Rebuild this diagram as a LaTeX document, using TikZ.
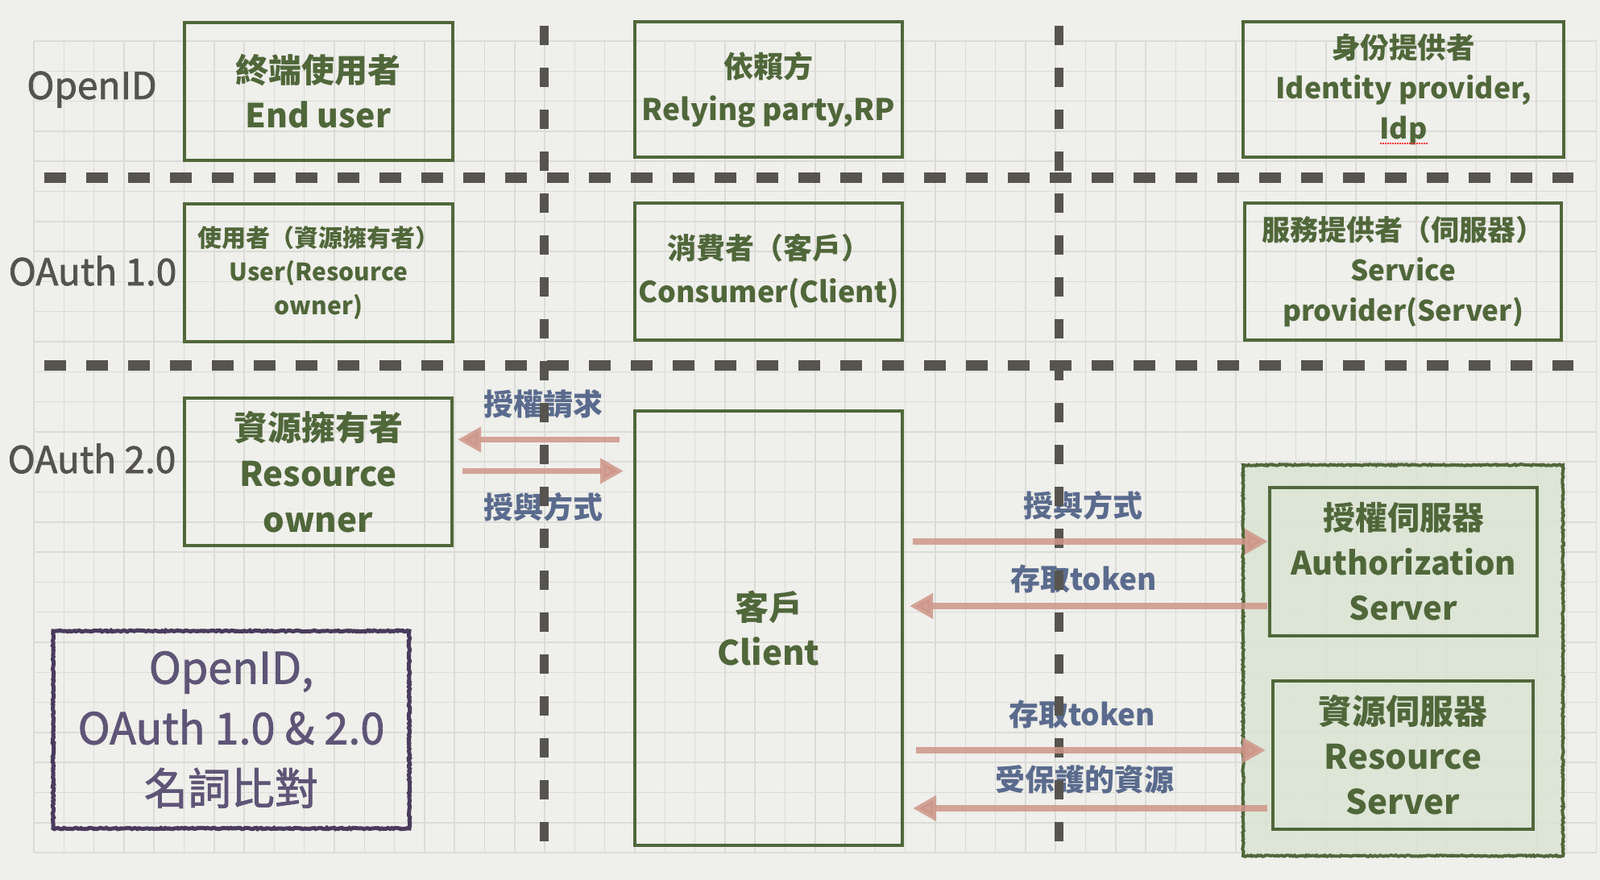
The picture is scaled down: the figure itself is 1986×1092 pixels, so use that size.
\documentclass[tikz,border=0pt]{standalone}
\usepackage{fontspec}
\setmainfont{Noto Sans CJK TC}
\newfontfamily\medfont{Noto Sans CJK TC}[BoldFont={Noto Sans CJK TC}, BoldFeatures={FakeBold=1.6}]
\usetikzlibrary{calc,arrows.meta,decorations.pathmorphing}
\definecolor{paper}{HTML}{EFEFEB}
\definecolor{gridc}{HTML}{DBDBD7}
\definecolor{olive}{HTML}{50673A}
\definecolor{slate}{HTML}{55534F}
\definecolor{dashc}{HTML}{57544F}
\definecolor{steel}{HTML}{5A6B8D}
\definecolor{rose}{HTML}{CF9689}
\definecolor{plum}{HTML}{4A3B5C}
\definecolor{plumtext}{HTML}{5E5577}
\definecolor{sage}{HTML}{DAE4D3}
\tikzset{
	gridline/.style={gridc, line width=1.5pt},
	role/.style={draw=olive, line width=4pt, text=olive, align=center, inner sep=0pt,
		font=\fontsize{42}{56}\selectfont\bfseries},
	rowlabel/.style={text=slate, font=\fontsize{46}{50}\selectfont\medfont\bfseries},
	msg/.style={text=steel, font=\fontsize{37}{40}\selectfont\bfseries},
	flow/.style={rose, opacity=0.85, line width=7.5pt, -{Triangle[length=29pt,width=30pt]}},
	hsep/.style={dashc, line width=13pt, dash pattern=on 26.5pt off 25.5pt},
	vsep/.style={dashc, line width=11pt, dash pattern=on 24pt off 28pt},
	rough/.style={decorate, decoration={random steps, segment length=2pt, amplitude=0.8pt}},
}

\begin{document}
\begin{tikzpicture}[x=1pt,y=-1pt]
			%%%%% START %%%%%
			
			\useasboundingbox (0,0) rectangle (1986,1092);
			\fill[paper] (0,0) rectangle (1986,1092);
			
			\foreach \i in {0,...,52} \draw[gridline] ({42+37.3*\i},51) -- ({42+37.3*\i},1058);
			\foreach \j in {0,...,27} \draw[gridline] (42,{51+37.3*\j}) -- (1982,{51+37.3*\j});
			
			\fill[sage, opacity=0.85] (1543,577) rectangle (1940,1062);
			\draw[olive, line width=4pt, rough] (1543,577) rectangle (1940,1062);
			
			\node[role, minimum width=333pt, minimum height=171pt, font=\fontsize{41}{56}\selectfont\bfseries] (eu) at (395,113.5) {終端使用者\\End user};
			\node[role, minimum width=332pt, minimum height=168pt, font=\fontsize{37}{53}\selectfont\bfseries] (rp) at (954,111) {依賴方\\Relying party,RP};
			\node[role, minimum width=398pt, minimum height=168pt, font=\fontsize{35.5}{50}\selectfont\bfseries] (idp) at (1742,111) {身份提供者\\Identity provider,\\Idp};
			
			\node[role, minimum width=333pt, minimum height=171pt, font=\fontsize{30}{42}\selectfont\bfseries] (usr) at (395.5,338.5) {使用者（資源擁有者）\\User(Resource\\owner)};
			\node[role, minimum width=332pt, minimum height=170pt, font=\fontsize{36}{54}\selectfont\bfseries] (con) at (954,337) {消費者（客戶）\\Consumer(Client)};
			\node[role, minimum width=393pt, minimum height=170pt, font=\fontsize{35}{50}\selectfont\bfseries] (sp) at (1741.5,337) {服務提供者（伺服器）\\Service\\provider(Server)};
			
			\node[role, minimum width=332pt, minimum height=183pt, font=\fontsize{42}{57}\selectfont\bfseries] (ro) at (395,585.5) {資源擁有者\\Resource\\owner};
			\node[role, minimum width=332pt, minimum height=539pt] (cl) at (954,779.5) {客戶\\Client};
			\node[role, minimum width=332pt, minimum height=184pt, font=\fontsize{40}{56}\selectfont\bfseries] (as) at (1742,697) {授權伺服器\\Authorization\\Server};
			\node[role, minimum width=323pt, minimum height=184pt] (rs) at (1741.5,937) {資源伺服器\\Resource\\Server};
			
			\draw[plum, line width=5pt, rough] (66,783) rectangle (508,1028);
			\node[text=plumtext, align=center, font=\fontsize{54}{75}\selectfont\medfont\bfseries] (title) at (287,905.5) {OpenID,\\OAuth 1.0 \& 2.0\\名詞比對};
			
			\node[rowlabel] (lopenid) at (114,111) {OpenID};
			\node[rowlabel] (loauth1) at (115,336) {OAuth 1.0};
			\node[rowlabel] (loauth2) at (114,569) {OAuth 2.0};
			
			\node[msg] (req) at (674,501) {授權請求};
			\node[msg] (grant) at (674,629) {授與方式};
			\node[msg] (grant2) at (1344,627) {授與方式};
			\node[msg] (tok) at (1345,718) {存取token};
			\node[msg] (tok2) at (1343,886) {存取token};
			\node[msg] (res) at (1346,967) {受保護的資源};
			
			\draw[hsep] (55,220) -- (1953,220);
			\draw[hsep] (55,453) -- (1953,453);
			\draw[vsep] (675,32) -- (675,1046);
			\draw[vsep] (1314,32) -- (1314,1046);
			
			\draw[flow] ($(cl.west |- ro.east)+(-17,-40)$) -- ($(ro.east)+(5,-40)$);
			\draw[flow] ($(ro.east)+(11,-1)$) -- ($(cl.west |- ro.east)+(-12,-1)$);
			\draw[flow] ($(cl.east |- as.west)+(11,-25)$) -- ($(as.west)+(0,-25)$);
			\draw[flow] ($(as.west)+(-1,55)$) -- ($(cl.east |- as.west)+(7,55)$);
			\draw[flow] ($(cl.east |- rs.west)+(15,-6)$) -- ($(rs.west)+(-7,-6)$);
			\draw[flow] ($(rs.west)+(-5,66)$) -- ($(cl.east |- rs.west)+(11,66)$);
			
			\draw[red!80, line width=1.5pt, dash pattern=on 1.5pt off 1.5pt] ($(idp.south)+(-29,-19)$) -- ($(idp.south)+(30,-19)$);
			
			%%%%% END %%%%%
\end{tikzpicture}
\end{document}
